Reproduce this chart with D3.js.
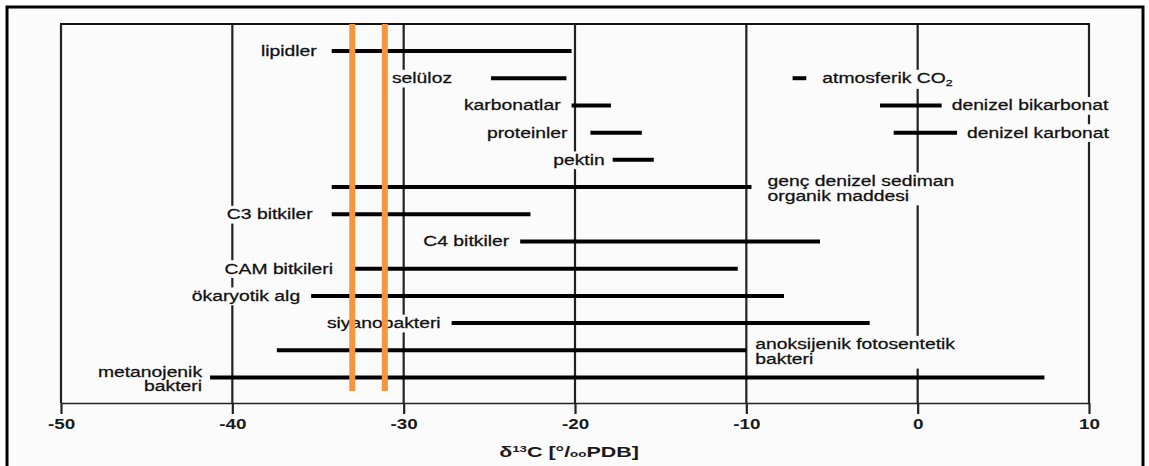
<!DOCTYPE html>
<html>
<head>
<meta charset="utf-8">
<script src="https://cdn.jsdelivr.net/npm/d3@7"></script>
<style>
  body { margin: 0; background: #fff; }
  svg { display: block; font-family: "Liberation Sans", Arial, sans-serif; }
</style>
</head>
<body>
<svg id="chart" width="1149" height="466"></svg>
<script>
// δ13C aralıkları (kaynak)
const names = ["lipidler", "selüloz", "atmosferik CO|2", "karbonatlar", "denizel bikarbonat",
  "proteinler", "denizel karbonat", "pektin", "genç denizel sediman\norganik maddesi",
  "C3 bitkiler", "C4 bitkiler", "CAM bitkileri", "ökaryotik alg", "siyanobakteri",
  "anoksijenik fotosentetik\nbakteri", "metanojenik\nbakteri"];
const lows  = [-34.2, -24.9, -7.3, -20.2, -2.2, -19.1, -1.4, -17.8, -34.2, -34.2, -23.2, -32.9, -35.4, -27.2, -37.4, -41.3];
const highs = [-20.2, -20.5, -6.5, -17.9, 1.4, -16.1, 2.3, -15.4, -9.7, -22.6, -5.7, -10.5, -7.8, -2.8, -10.0, 7.4];
const rows  = [0, 1, 1, 2, 2, 3, 3, 4, 5, 6, 7, 8, 9, 10, 11, 12];
const sides = ["L", "L", "R", "L", "R", "L", "R", "L", "R", "L", "L", "L", "L", "L", "R", "L"];
const xTicks = [-50, -40, -30, -20, -10, 0, 10];
const marks = [-33.0, -31.1];   // turuncu işaret çizgileri

// etiket ile çubuk arası boşluk (px)
const labelGap = [15, 39, 16, 11, 10, 23, 10, 8, 16, 19, 11, 21, 11, 11, 9, 8];

const svg = d3.select("#chart");
const pLeft = 61, pRight = 1089, pTop = 24, pBottom = 403;
const sx = 1.38; // kaynaktaki yazılar yatay olarak gerilmiş
const bg = "#fbfbfb";

// dış çerçeve
svg.append("rect").attr("x", 7).attr("y", 7).attr("width", 1136).attr("height", 470)
  .attr("fill", bg).attr("stroke", "#000").attr("stroke-width", 3);

const x = d3.scaleLinear().domain([-50, 10]).range([pLeft, pRight]);
const y = d3.scaleLinear().domain([0, 12]).range([51, 377.5]);

// ızgara + kutu kenarları
svg.append("g").selectAll("line").data(xTicks).join("line")
  .attr("x1", d => x(d)).attr("x2", d => x(d))
  .attr("y1", pTop).attr("y2", pBottom)
  .attr("stroke", "#222").attr("stroke-width", 2.2);
svg.append("line").attr("x1", pLeft - 1).attr("x2", pRight + 1).attr("y1", pTop).attr("y2", pTop)
  .attr("stroke", "#111").attr("stroke-width", 2);

// eksen
const axis = d3.axisBottom(x).tickValues(xTicks).tickSize(11).tickSizeOuter(0)
  .tickFormat(d => String(d));
const gx = svg.append("g").attr("transform", `translate(0,${pBottom})`).call(axis);
gx.select(".domain").attr("stroke", "#222").attr("stroke-width", 1.5);
gx.selectAll(".tick line").attr("stroke", "#222").attr("stroke-width", 2.2);
gx.selectAll(".tick text")
  .attr("fill", "#1a1a1a").attr("font-size", 14.5).attr("font-weight", "bold")
  .attr("font-family", "'Liberation Sans', Arial, sans-serif")
  .attr("y", 16).attr("dy", "0.71em")
  .attr("transform", "scale(1.3,1)");

// eksen başlığı
const title = svg.append("text")
  .attr("transform", `translate(${x(-20) - 6},457) scale(1.48,1)`)
  .attr("text-anchor", "middle").attr("font-size", 14.5).attr("font-weight", "bold")
  .attr("fill", "#1a1a1a");
title.append("tspan").text("δ");
title.append("tspan").attr("font-size", 9).attr("dy", -5).text("13");
title.append("tspan").attr("dy", 5).text("C [°/");
title.append("tspan").attr("font-size", 9).text("oo");
title.append("tspan").text("PDB]");

// etiketler
const data = names.map((n, i) => ({ name: n, lo: lows[i], hi: highs[i], row: rows[i], side: sides[i], gap: labelGap[i] }));

const labels = svg.append("g").selectAll("g").data(data).join("g")
  .attr("transform", d => {
    const lx = d.side === "L" ? x(d.lo) - d.gap : x(d.hi) + d.gap;
    const multi = d.name.includes("\n");
    const ly = y(d.row) + (multi ? -1 : 5);
    return `translate(${lx},${ly}) scale(${sx},1)`;
  });

labels.each(function (d) {
  const g = d3.select(this);
  const bgRect = g.append("rect").attr("fill", bg);
  const t = g.append("text")
    .attr("text-anchor", d.side === "L" ? "end" : "start")
    .attr("font-size", 14).attr("fill", "#111")
    .attr("stroke", "#111").attr("stroke-width", 0.25);
  d.name.split("\n").forEach((line, k) => {
    const ts = t.append("tspan").attr("x", 0).attr("y", k * 15);
    if (line.includes("|")) {
      const [a, b] = line.split("|");
      ts.text(a);
      t.append("tspan").attr("font-size", 9).attr("dy", 3).text(b);
    } else {
      ts.text(line);
    }
  });
  const bb = t.node().getBBox();
  bgRect.attr("x", bb.x - 2).attr("y", bb.y - 1)
    .attr("width", bb.width + 4).attr("height", bb.height + 2);
});

// aralık çubukları
svg.append("g").selectAll("line").data(data).join("line")
  .attr("x1", d => x(d.lo)).attr("x2", d => x(d.hi))
  .attr("y1", d => y(d.row)).attr("y2", d => y(d.row))
  .attr("stroke", "#000").attr("stroke-width", 4);

// turuncu dikey çizgiler
svg.append("g").selectAll("line").data(marks).join("line")
  .attr("x1", d => x(d)).attr("x2", d => x(d))
  .attr("y1", pTop).attr("y2", 391)
  .attr("stroke", "#f7953f").attr("stroke-width", 6);
</script>
</body>
</html>
